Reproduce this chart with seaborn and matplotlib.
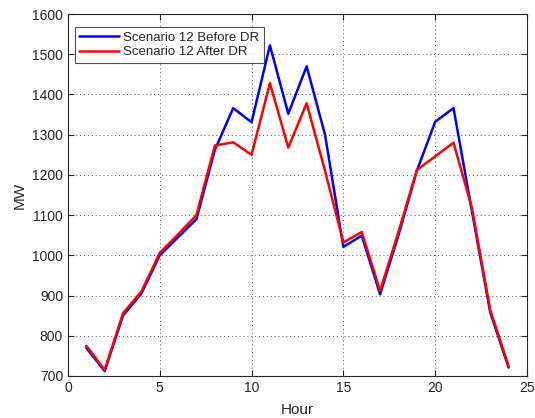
import numpy as np
import pandas as pd
import matplotlib
matplotlib.use("Agg")
import matplotlib.pyplot as plt
import seaborn as sns

hours = list(range(1, 25))
before_dr = [770, 712, 850, 905, 1000, 1045, 1090, 1262, 1366, 1331, 1522, 1352,
             1470, 1300, 1021, 1049, 903, 1050, 1210, 1332, 1366, 1110, 858, 721]
after_dr = [775, 715, 856, 910, 1006, 1052, 1100, 1273, 1281, 1250, 1428, 1268,
            1378, 1210, 1032, 1058, 912, 1058, 1212, 1246, 1280, 1118, 864, 724]

series_names = ["Scenario 12 Before DR", "Scenario 12 After DR"]

df = pd.DataFrame({
    "Hour": hours * 2,
    "MW": before_dr + after_dr,
    "Series": [series_names[0]] * 24 + [series_names[1]] * 24,
})

sns.set_style("white")
plt.rcParams["font.family"] = ["Liberation Sans", "DejaVu Sans"]

fig = plt.figure(figsize=(5.35, 4.18), dpi=100)
ax = fig.add_axes([0.127, 0.1005, 0.858, 0.866])

sns.lineplot(data=df, x="Hour", y="MW", hue="Series",
             palette=["#0000ff", "#ff0000"], linewidth=1.8, ax=ax)

ax.set_xlim(0, 25)
ax.set_ylim(700, 1600)
ax.set_xticks([0, 5, 10, 15, 20, 25])
ax.set_yticks(range(700, 1601, 100))
ax.grid(True, linestyle=(0, (1, 3)), color="#555555", linewidth=0.7)
for s in ax.spines.values():
    s.set_color("#262626")
    s.set_linewidth(0.8)
ax.tick_params(direction="in", length=4, colors="#262626", labelsize=10,
               top=True, right=True, bottom=True, left=True)
ax.set_xlabel("Hour", fontsize=11, color="#262626", labelpad=6)
ax.set_ylabel("MW", fontsize=11, color="#262626")

# legend box sits just inside the top-left corner, like the original
leg = ax.legend(loc="upper left", fontsize=9.5, frameon=True, fancybox=False,
                handlelength=3.0, handletextpad=0.3, borderpad=0.35,
                labelspacing=0.2, borderaxespad=0.0,
                bbox_to_anchor=(0.015, 0.965))
leg.get_frame().set_edgecolor("#262626")
leg.get_frame().set_linewidth(0.8)

fig.savefig("out.png", dpi=100)
